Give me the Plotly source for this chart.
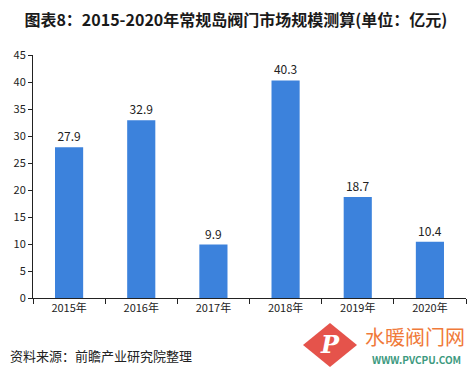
import plotly.graph_objects as go

years = ["2015年", "2016年", "2017年", "2018年", "2019年", "2020年"]
values = [27.9, 32.9, 9.9, 40.3, 18.7, 10.4]
title_text = "图表8：2015-2020年常规岛阀门市场规模测算(单位：亿元)"
source_text = "资料来源：前瞻产业研究院整理"

font_family = "Microsoft YaHei, Noto Sans CJK SC, sans-serif"

fig = go.Figure()
fig.add_trace(go.Bar(
    x=years, y=values,
    marker=dict(color="#3c82dc", line=dict(width=0)),
    width=0.39,
    text=[f"{v:.1f}" for v in values],
    textposition="outside",
    textfont=dict(size=12, color="#222222", family=font_family),
    cliponaxis=False,
))

fig.update_layout(
    width=467, height=364,
    margin=dict(l=25, r=9, t=47, b=74),
    paper_bgcolor="white", plot_bgcolor="white",
    showlegend=False,
    font=dict(family=font_family, color="#333333"),
    title=dict(text="<b>" + title_text + "</b>", x=0.488, xanchor="center", y=0.967, yanchor="middle",
               font=dict(size=16, color="#1a1a1a", family=font_family)),
    xaxis=dict(
        showline=True, linecolor="#222222", linewidth=1,
        ticks="outside", ticklen=5, tickcolor="#222222",
        tickson="boundaries",
        tickfont=dict(size=11, color="#222222"),
        showgrid=False, automargin=False,
    ),
    yaxis=dict(
        range=[0, 45], dtick=5,
        showline=True, linecolor="#222222", linewidth=1,
        ticks="outside", ticklen=4, tickcolor="#222222",
        tickfont=dict(size=11, color="#222222"),
        showgrid=False, zeroline=False, automargin=False,
    ),
    annotations=[
        dict(text=source_text, xref="paper", yref="paper", x=-0.0577, y=-0.2346,
             xanchor="left", yanchor="middle", showarrow=False,
             font=dict(size=13, color="#222222", family=font_family)),
        dict(text="水暖阀门网", xref="paper", yref="paper", x=0.882, y=-0.158,
             xanchor="center", yanchor="middle", showarrow=False,
             font=dict(size=20, color="#f07a3a", family=font_family)),
        dict(text="<b>WWW.PVCPU.COM</b>", xref="paper", yref="paper", x=0.885, y=-0.255,
             xanchor="center", yanchor="middle", showarrow=False,
             font=dict(size=10, color="#3d9a80", family=font_family)),
        dict(text="<b><i>P</i></b>", xref="paper", yref="paper", x=0.6859, y=-0.1934,
             xanchor="center", yanchor="middle", showarrow=False,
             font=dict(size=24, color="white", family="DejaVu Serif, serif")),
    ],
    shapes=[
        dict(type="path", xref="paper", yref="paper",
             path="M 0.6236,-0.1934 L 0.6859,-0.1029 L 0.7483,-0.1934 L 0.6859,-0.2840 Z",
             fillcolor="#e5534b", line=dict(width=0), layer="above"),
    ],
)

fig.write_html("out.html")
